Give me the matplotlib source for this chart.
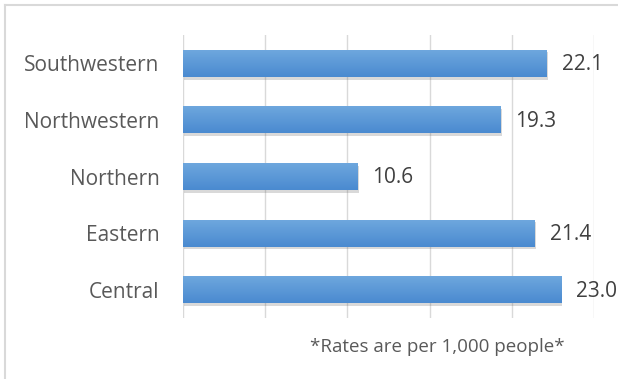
import numpy as np
import matplotlib.pyplot as plt
import matplotlib.patheffects as pe
from matplotlib.lines import Line2D
from matplotlib.colors import LinearSegmentedColormap

# regions and rates (per 1,000 people), bottom to top
regions = ["Central", "Eastern", "Northern", "Northwestern", "Southwestern"]
rates = [23.0, 21.4, 10.6, 19.3, 22.1]
xticks = [0, 5, 10, 15, 20, 25]
note = "*Rates are per 1,000 people*"

plt.rcParams['font.family'] = ['Open Sans', 'DejaVu Sans']

fig = plt.figure(figsize=(6.18, 3.79), dpi=100)
ax = fig.add_axes([0.2961, 0.1609, 0.665, 0.7468])

y = np.arange(len(regions))
bars = ax.barh(y, rates, height=0.48, color="#5b9bd5", zorder=2)

# vertical blue gradient inside each bar plus a soft drop shadow
grad = np.linspace(0, 1, 50).reshape(-1, 1)
cmap = LinearSegmentedColormap.from_list("bar", ["#6fa8de", "#4a8ad0"])
for b in bars:
    b.set_path_effects([pe.SimplePatchShadow(offset=(1, -2), alpha=0.22, shadow_rgbFace="#555555"), pe.Normal()])
    x0, y0 = b.get_x(), b.get_y()
    im = ax.imshow(grad, cmap=cmap, aspect="auto", zorder=3,
                   extent=[x0, x0 + b.get_width(), y0, y0 + b.get_height()], origin="upper")
    im.set_clip_path(b)

for yi, v in zip(y, rates):
    ax.annotate(f"{v:.1f}", (v, yi), xytext=(11, -1), textcoords="offset points",
                va="center", ha="left", fontsize=15, color="#404040")

ax.set_xlim(0, 25)
ax.set_ylim(-0.5, len(regions) - 0.5)
ax.set_xticks(xticks)
ax.set_xticklabels([])
ax.set_yticks(y)
ax.set_yticklabels(regions, fontsize=15, color="#595959")
ax.tick_params(length=0, pad=17)
ax.grid(axis="x", color="#d9d9d9", linewidth=1, zorder=0)
for s in ax.spines.values():
    s.set_visible(False)

fig.text(0.708, 0.084, note, ha="center", va="center", fontsize=13.5, color="#595959")

# chart frame (top and left edges)
fig.add_artist(Line2D([5 / 618, 1], [1 - 5 / 379, 1 - 5 / 379], color="#d9d9d9", linewidth=1.5))
fig.add_artist(Line2D([5 / 618, 5 / 618], [0, 1 - 5 / 379], color="#d9d9d9", linewidth=1.5))

fig.savefig("out.png", dpi=100)
